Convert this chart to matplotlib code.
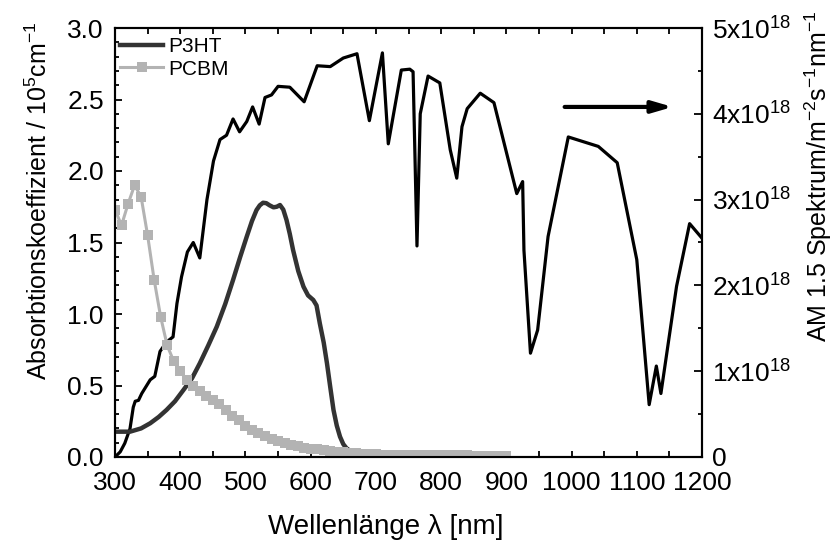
import matplotlib
matplotlib.use('Agg')
import matplotlib.pyplot as plt
from matplotlib.ticker import MultipleLocator, FixedLocator

# AM 1.5 spectrum (right axis, units of 1e18 m^-2 s^-1 nm^-1)
am_wl = [300, 308, 315, 323, 328, 331, 336, 341, 354, 361, 369, 379, 389, 395,
         402, 411, 420, 430, 441, 451, 461, 471, 481, 491, 502, 511, 521, 530,
         540, 550, 568, 590, 610, 630, 650, 671, 690, 710, 719, 739, 752, 757,
         763, 768, 780, 798, 814, 824, 832, 840, 860, 881, 916, 925, 927, 937,
         948, 964, 995, 1041, 1070, 1100, 1119, 1130, 1137, 1161, 1181, 1200]
am_val = [0.0, 0.06, 0.16, 0.33, 0.58, 0.65, 0.66, 0.74, 0.90, 0.94, 1.23, 1.34,
          1.40, 1.79, 2.10, 2.39, 2.50, 2.32, 3.00, 3.45, 3.70, 3.75, 3.94, 3.79,
          3.91, 4.08, 3.88, 4.19, 4.22, 4.32, 4.31, 4.14, 4.56, 4.55, 4.65, 4.70,
          3.92, 4.71, 3.65, 4.51, 4.52, 4.49, 2.46, 4.00, 4.44, 4.36, 3.58, 3.25,
          3.85, 4.06, 4.24, 4.13, 3.07, 3.21, 2.41, 1.21, 1.48, 2.57, 3.73, 3.62,
          3.43, 2.30, 0.61, 1.06, 0.74, 1.99, 2.72, 2.55]

# P3HT absorption coefficient (1e5 cm^-1)
p3ht_wl = [300, 323, 340, 354, 367, 379, 392, 405, 418, 430, 443, 456, 469, 481,
           492, 502, 510, 517, 522, 527, 532, 537, 543, 548, 553, 558, 563, 568,
           573, 581, 589, 596, 604, 609, 614, 620, 625, 630, 635, 640, 645, 650,
           655, 663, 671, 700, 740, 800]
p3ht_val = [0.177, 0.177, 0.20, 0.236, 0.28, 0.329, 0.39, 0.469, 0.55, 0.655,
            0.78, 0.911, 1.07, 1.238, 1.40, 1.541, 1.65, 1.727, 1.76, 1.778,
            1.775, 1.76, 1.746, 1.75, 1.762, 1.73, 1.657, 1.56, 1.448, 1.30,
            1.191, 1.13, 1.098, 1.06, 0.935, 0.80, 0.655, 0.49, 0.329, 0.22,
            0.142, 0.09, 0.061, 0.035, 0.021, 0.018, 0.016, 0.01]

# PCBM absorption coefficient (1e5 cm^-1), one value every 10 nm
pcbm_wl = list(range(300, 901, 10))
pcbm_val = [1.73, 1.62, 1.77, 1.90, 1.82, 1.55, 1.24, 0.98, 0.78, 0.67,
            0.60, 0.54, 0.50, 0.46, 0.43, 0.40, 0.37, 0.33, 0.29, 0.26,
            0.22, 0.19, 0.17, 0.145, 0.125, 0.11, 0.097, 0.085, 0.075, 0.066,
            0.059, 0.053, 0.047, 0.041, 0.036, 0.032, 0.028, 0.025, 0.022, 0.020,
            0.018, 0.017, 0.016, 0.015, 0.015, 0.014, 0.014, 0.013, 0.013, 0.012,
            0.012, 0.012, 0.011, 0.011, 0.011, 0.010, 0.010, 0.010, 0.010, 0.010,
            0.010]

right_ticks = [0, 1, 2, 3, 4, 5]
right_labels = ['0', r'1x10$^{18}$', r'2x10$^{18}$', r'3x10$^{18}$',
                r'4x10$^{18}$', r'5x10$^{18}$']

plt.rcParams['font.family'] = ['Liberation Sans', 'DejaVu Sans']
plt.rcParams['mathtext.fontset'] = 'custom'
plt.rcParams['mathtext.rm'] = 'Liberation Sans'
plt.rcParams['mathtext.it'] = 'Liberation Sans'
plt.rcParams['mathtext.default'] = 'rm'

fig = plt.figure(figsize=(8.38, 5.45), dpi=100)
ax = fig.add_axes([115 / 838, 1 - 457 / 545, 587 / 838, 429 / 545])
ax2 = ax.twinx()

# spectrum on the twin axis, kept behind the absorption curves
ax2.plot(am_wl, am_val, color='black', lw=2.3)
ax.set_zorder(ax2.get_zorder() + 1)
ax.patch.set_visible(False)

ax.plot(p3ht_wl, p3ht_val, color='#333333', lw=3.2, label='P3HT')
ax.plot(pcbm_wl, pcbm_val, color='#b3b3b3', lw=2.2, marker='s', ms=6.5,
        markeredgewidth=0, label='PCBM')

ax.set_xlim(300, 1200)
ax.set_ylim(0, 3.0)
ax2.set_ylim(0, 5)

ax.xaxis.set_major_locator(MultipleLocator(100))
ax.xaxis.set_minor_locator(MultipleLocator(50))
ax.yaxis.set_major_locator(MultipleLocator(0.5))
ax.yaxis.set_minor_locator(MultipleLocator(0.1))
ax.yaxis.set_major_formatter(matplotlib.ticker.FormatStrFormatter('%.1f'))
ax2.yaxis.set_major_locator(FixedLocator(right_ticks))
ax2.set_yticklabels(right_labels)
ax2.yaxis.set_minor_locator(MultipleLocator(0.5))

ax.tick_params(axis='x', which='both', direction='in', top=True, length=4,
               width=1.3, pad=10, labelsize=19)
ax.tick_params(axis='y', which='major', direction='in', length=5, width=1.3,
               pad=8, labelsize=19)
ax.tick_params(axis='y', which='minor', direction='in', length=3, width=1.3)
ax2.tick_params(axis='y', which='major', direction='in', length=5.5, width=1.3,
                pad=7, labelsize=19)
ax2.tick_params(axis='y', which='minor', direction='in', length=3, width=1.3)

for a in (ax, ax2):
    for sp in a.spines.values():
        sp.set_linewidth(1.5)

ax.annotate('', xy=(0.95, 0.816), xytext=(0.766, 0.816), xycoords='axes fraction',
            arrowprops=dict(arrowstyle='-|>,head_length=1.2,head_width=0.35',
                            color='black', lw=3.0, shrinkA=0, shrinkB=0))

ax.legend(loc='upper left', bbox_to_anchor=(0.008, 0.978), frameon=False,
          fontsize=15, handlelength=2.1, handletextpad=0.25, labelspacing=0.15,
          borderpad=0, borderaxespad=0, numpoints=1)

fig.text(386 / 838, 1 - 527 / 545, 'Wellenlänge λ [nm]', fontsize=20,
         ha='center', va='center')
fig.text(39 / 838, 1 - 201 / 545, r'Absorbtionskoeffizient / 10$^5$cm$^{-1}$',
         fontsize=18, rotation=90, ha='center', va='center')
fig.text(818 / 838, 1 - 176 / 545, r'AM 1.5 Spektrum/m$^{-2}$s$^{-1}$nm$^{-1}$',
         fontsize=18, rotation=90, ha='center', va='center')

fig.savefig('out.png', dpi=100)
